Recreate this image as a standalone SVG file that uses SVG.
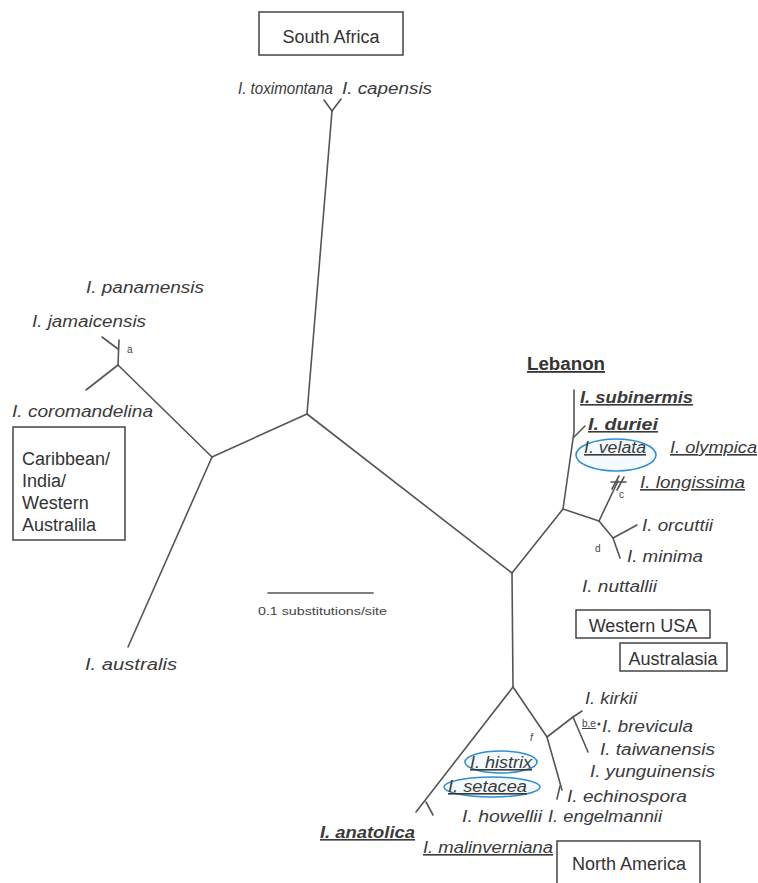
<svg xmlns="http://www.w3.org/2000/svg" width="758" height="883" viewBox="0 0 758 883">
<style>
.br{stroke:#555;stroke-width:1.6;fill:none;stroke-linecap:round;stroke-linejoin:round}
.bx{fill:#fff;stroke:#444;stroke-width:1.5}
.bl{font-family:"Liberation Sans",Arial,sans-serif;font-size:18px;fill:#333}
.sp{font-family:"Liberation Sans",Arial,sans-serif;font-style:italic;font-size:16px;fill:#3a3a3a}
.b{font-weight:bold}
.u{text-decoration:underline}
.sm{font-family:"Liberation Sans",Arial,sans-serif;font-size:10px;fill:#444}
.ell{fill:#eaf6fc;fill-opacity:0.5;stroke:#2f8fcf;stroke-width:1.6}
</style>
<rect width="758" height="883" fill="#fff"/>
<g id="connectors">
<polyline class="br" points="324,100 332,111 341,99"/>
<line class="br" x1="332" y1="111" x2="307" y2="414"/>
<line class="br" x1="307" y1="414" x2="212" y2="457"/>
<line class="br" x1="307" y1="414" x2="512" y2="573"/>
<line class="br" x1="212" y1="457" x2="118" y2="365"/>
<line class="br" x1="118" y1="365" x2="86" y2="390"/>
<line class="br" x1="118" y1="365" x2="119" y2="340"/>
<line class="br" x1="118" y1="349" x2="102" y2="337"/>
<line class="br" x1="212" y1="457" x2="128" y2="647"/>
<line class="br" x1="512" y1="573" x2="563" y2="509"/>
<line class="br" x1="512" y1="573" x2="513" y2="687"/>
<polyline class="br" points="574,390 574,432 563,509"/>
<line class="br" x1="574" y1="437" x2="585" y2="426"/>
<line class="br" x1="563" y1="509" x2="599" y2="521"/>
<line class="br" x1="599" y1="521" x2="618" y2="481"/>
<line class="br" x1="612" y1="489" x2="619" y2="476"/>
<line class="br" x1="617" y1="490" x2="624" y2="477"/>
<line class="br" x1="611" y1="482" x2="626" y2="482"/>
<line class="br" x1="599" y1="521" x2="613" y2="538"/>
<line class="br" x1="613" y1="538" x2="637" y2="525"/>
<line class="br" x1="613" y1="538" x2="620" y2="558"/>
<line class="br" x1="513" y1="687" x2="416" y2="812"/>
<line class="br" x1="426" y1="802" x2="433" y2="815"/>
<line class="br" x1="513" y1="687" x2="547" y2="737"/>
<line class="br" x1="547" y1="737" x2="573" y2="717"/>
<line class="br" x1="573" y1="717" x2="582" y2="711"/>
<line class="br" x1="573" y1="717" x2="588" y2="752"/>
<line class="br" x1="547" y1="737" x2="562" y2="790"/>
<line class="br" x1="560" y1="786" x2="557" y2="799"/>
<line class="br" x1="268" y1="593" x2="373" y2="593" stroke-width="2"/>
</g>
<g id="ellipses">
<ellipse class="ell" cx="616" cy="455" rx="40" ry="16"/>
<ellipse class="ell" cx="501" cy="762" rx="36" ry="11"/>
<ellipse class="ell" cx="492" cy="787" rx="48" ry="10"/>
</g>
<g id="south-africa"><rect class="bx" x="259" y="12" width="144" height="43"/><text class="bl" x="331" y="43" text-anchor="middle">South Africa</text></g>
<g id="caribbean"><rect class="bx" x="13" y="427" width="112" height="113"/>
<text class="bl" x="22" y="465">Caribbean/</text><text class="bl" x="22" y="487">India/</text><text class="bl" x="22" y="509">Western</text><text class="bl" x="22" y="531">Australila</text></g>
<g id="western-usa"><rect class="bx" x="576" y="610" width="134" height="28"/><text class="bl" x="643" y="632" text-anchor="middle">Western USA</text></g>
<g id="australasia"><rect class="bx" x="620" y="643" width="107" height="28"/><text class="bl" x="673" y="665" text-anchor="middle">Australasia</text></g>
<g id="north-america"><rect class="bx" x="557" y="841" width="143" height="60"/><text class="bl" x="629" y="870" text-anchor="middle">North America</text></g>
<g id="lebanon"><text class="bl b u" x="527" y="370" textLength="78" lengthAdjust="spacingAndGlyphs">Lebanon</text></g>
<g id="taxa">
<text class="sp" x="238" y="94" textLength="95" lengthAdjust="spacingAndGlyphs">I. toximontana</text>
<text class="sp" x="342" y="94" textLength="90" lengthAdjust="spacingAndGlyphs">I. capensis</text>
<text class="sp" x="86" y="293" textLength="118" lengthAdjust="spacingAndGlyphs">I. panamensis</text>
<text class="sp" x="32" y="327" textLength="114" lengthAdjust="spacingAndGlyphs">I. jamaicensis</text>
<text class="sp" x="12" y="417" textLength="141" lengthAdjust="spacingAndGlyphs">I. coromandelina</text>
<text class="sp" x="85" y="670" textLength="92" lengthAdjust="spacingAndGlyphs">I. australis</text>
<text class="sp b u" x="580" y="403" textLength="113" lengthAdjust="spacingAndGlyphs">I. subinermis</text>
<text class="sp b u" x="588" y="430" textLength="70" lengthAdjust="spacingAndGlyphs">I. duriei</text>
<text class="sp u" x="584" y="453" textLength="62" lengthAdjust="spacingAndGlyphs">I. velata</text>
<text class="sp u" x="670" y="453" textLength="87" lengthAdjust="spacingAndGlyphs">I. olympica</text>
<text class="sp u" x="640" y="488" textLength="105" lengthAdjust="spacingAndGlyphs">I. longissima</text>
<text class="sp" x="642" y="531" textLength="71" lengthAdjust="spacingAndGlyphs">I. orcuttii</text>
<text class="sp" x="627" y="562" textLength="76" lengthAdjust="spacingAndGlyphs">I. minima</text>
<text class="sp" x="582" y="592" textLength="75" lengthAdjust="spacingAndGlyphs">I. nuttallii</text>
<text class="sp" x="585" y="704" textLength="52" lengthAdjust="spacingAndGlyphs">I. kirkii</text>
<text class="sp" x="602" y="732" textLength="91" lengthAdjust="spacingAndGlyphs">I. brevicula</text>
<text class="sp" x="600" y="755" textLength="115" lengthAdjust="spacingAndGlyphs">I. taiwanensis</text>
<text class="sp" x="590" y="777" textLength="125" lengthAdjust="spacingAndGlyphs">I. yunguinensis</text>
<text class="sp" x="567" y="802" textLength="120" lengthAdjust="spacingAndGlyphs">I. echinospora</text>
<text class="sp" x="548" y="822" textLength="114" lengthAdjust="spacingAndGlyphs">I. engelmannii</text>
<text class="sp" x="462" y="822" textLength="80" lengthAdjust="spacingAndGlyphs">I. howellii</text>
<text class="sp b u" x="320" y="838" textLength="95" lengthAdjust="spacingAndGlyphs">I. anatolica</text>
<text class="sp u" x="423" y="853" textLength="130" lengthAdjust="spacingAndGlyphs">I. malinverniana</text>
<text class="sp u" x="470" y="768" textLength="62" lengthAdjust="spacingAndGlyphs">I. histrix</text>
<text class="sp u" x="448" y="792" textLength="79" lengthAdjust="spacingAndGlyphs">I. setacea</text>
</g>
<g id="small-labels">
<text class="sm" x="127" y="353">a</text>
<text class="sm" x="619" y="498">c</text>
<text class="sm" x="595" y="552">d</text>
<text class="sm" x="530" y="741" font-style="italic">f</text>
<text class="sm u" x="582" y="727">b,e</text>
<circle cx="599" cy="724" r="1.5" fill="#444"/>
</g>
<g id="scale"><text class="sm" x="258" y="615" font-size="11" textLength="129" lengthAdjust="spacingAndGlyphs">0.1 substitutions/site</text></g>
</svg>
